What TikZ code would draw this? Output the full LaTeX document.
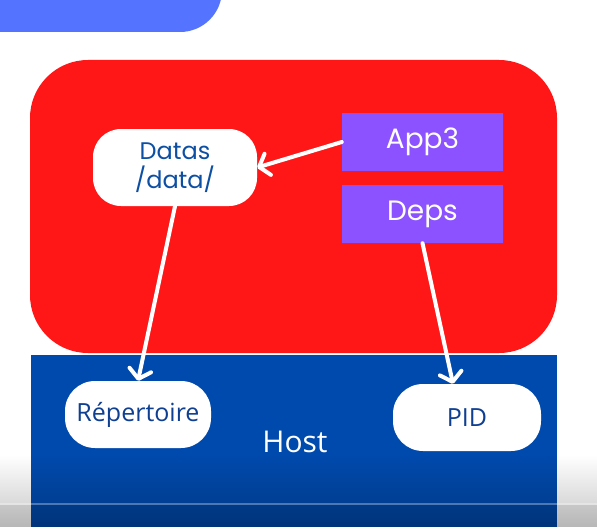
\documentclass[tikz,border=0pt]{standalone}
\usepackage{fontspec}
\setmainfont{Open Sans}
\newfontfamily\popfont{Poppins}
\newfontfamily\opfont{Open Sans}
\usetikzlibrary{arrows.meta,fadings}
\definecolor{topblue}{HTML}{5474FF}
\definecolor{redbox}{HTML}{FF1717}
\definecolor{hostblue}{HTML}{004AAD}
\definecolor{purplebox}{HTML}{8C52FF}
\definecolor{txtblue}{HTML}{0C4FA3}
\definecolor{txtblue2}{HTML}{0E3F91}
\tikzset{
  pill/.style={fill=white, rounded corners=28pt, inner sep=0pt, align=center},
  appbox/.style={fill=purplebox, inner sep=0pt, minimum width=161pt, minimum height=58pt,
    text=white, font=\popfont\fontsize{28}{33}\selectfont},
  flow/.style={white, line width=4pt, line cap=round, line join=round,
    -{Straight Barb[length=9pt,width=22pt,line cap=round,line join=round]}},
}
\begin{document}
\begin{tikzpicture}[x=1pt,y=-1pt]
\useasboundingbox (0,0) rectangle (597,527);
\fill[white] (0,0) rectangle (597,527);
% top-left tab
\begin{scope}
\clip (0,0) rectangle (597,527);
\fill[topblue, rounded corners=42pt] (-60,-80) rectangle (222,32);
\end{scope}
% container and host
\fill[redbox, rounded corners=58pt] (30,60) rectangle (557,353);
\fill[hostblue] (31,355) rectangle (557,527);
% nodes
\node[pill, minimum width=164pt, minimum height=77pt, text=txtblue,
  font=\popfont\fontsize{24}{29}\selectfont] (datas) at (175,167.5) {Datas\\/data/};
\node[appbox] (app3) at (422.5,142) {App3};
\node[appbox] (deps) at (422.5,214) {Deps};
\node[pill, rounded corners=30pt, minimum width=146pt, minimum height=67pt, text=txtblue2,
  font=\opfont\fontsize{25}{30}\selectfont] (rep) at (138,414.5) {Répertoire};
\node[pill, rounded corners=30pt, minimum width=148pt, minimum height=67pt, text=txtblue2,
  font=\opfont\fontsize{25}{30}\selectfont] (pid) at (467,417.5) {PID};
\node[anchor=base, text=white, inner sep=0pt, font=\opfont\fontsize{30}{36}\selectfont] (host) at (295,452) {Host};
% connectors
\draw[flow] (app3.west) -- (datas.east);
\draw[flow] (datas.south) -- (rep.north);
\draw[flow] (deps.south) -- ([xshift=-14pt]pid.north);
% bottom video shadow
\fill[black, opacity=0.22, path fading=north] (0,455) rectangle (597,527);
\fill[black, opacity=0.08] (0,505) rectangle (597,527);
\draw[white, opacity=0.3, line width=1.5pt] (0,504) -- (597,504);
\end{tikzpicture}
\end{document}
